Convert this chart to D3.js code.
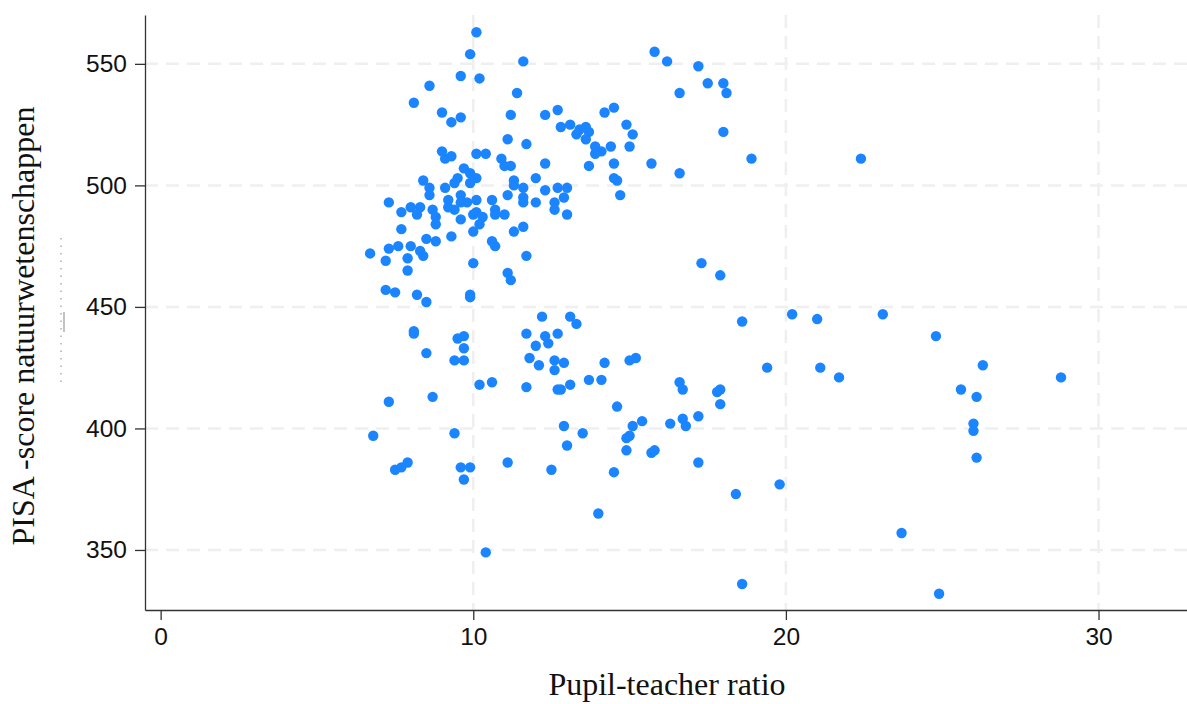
<!DOCTYPE html>
<head>
  <meta charset="utf-8">
  <script src="https://d3js.org/d3.v7.min.js"></script>
  <style>
    body { margin:0; background:#fff; }
    .axis path, .axis line { stroke: #333; stroke-width: 1.3; }
    .axis text { font-family: 'Liberation Sans', Arial, sans-serif; font-size: 24.5px; fill: #111; }
    .grid-line { stroke: #efefef; stroke-width: 2.5; stroke-dasharray: 13,8; }
    .axis-title { font-family: 'Liberation Serif', 'Times New Roman', serif; font-size: 32px; fill: #111; }
    .dot { fill: #1a85ff; }
  </style>
</head>

<body>
  <script>
    // pupil-teacher ratio (x) and PISA science score (y)
    var pupilTeacher = [
      10.1, 9.9, 11.6, 9.6, 10.2, 8.6, 8.1, 11.4, 9.0, 9.3, 9.6, 11.2, 12.3, 12.7, 12.8, 11.1, 11.7,
      9.0, 9.1, 9.3, 10.1, 10.4, 10.9, 11.0, 11.2, 12.3, 9.7, 9.5, 9.4, 9.9, 10.1, 9.9, 8.4, 8.6, 8.6,
      9.1, 11.3, 11.3, 12.0, 12.7, 12.3, 11.6, 11.1, 11.6, 11.6, 12.0, 12.6, 12.6, 7.3, 7.7, 8.0, 8.3,
      8.2, 8.7, 9.2, 9.2, 9.4, 9.6, 9.6, 9.8, 10.1, 10.6, 10.7, 11.0, 10.0, 10.1, 10.3, 8.8, 9.6, 10.7,
      8.8, 10.2, 7.7, 10.0, 9.3, 8.5, 8.8, 11.3, 11.6, 6.7, 7.2, 7.3, 7.6, 8.0, 8.3, 8.4, 7.9, 7.9,
      10.6, 10.7, 10.0, 11.7, 11.1, 11.2, 7.2, 7.5, 8.2, 8.5, 9.9, 9.9, 8.1, 8.1, 9.5, 9.7, 9.7, 9.4,
      9.7, 8.5, 11.7, 12.2, 12.0, 12.3, 12.4, 12.7, 11.8, 12.1, 12.6, 12.6, 10.2, 10.6, 11.7, 12.7,
      12.8, 7.3, 8.7, 13.1, 13.3, 12.9, 14.2, 15.0, 15.2, 13.7, 14.1, 13.1, 16.6, 16.7, 17.8, 17.9,
      17.9, 14.6, 17.3, 17.9, 18.6, 13.0, 6.8, 9.4, 7.5, 7.7, 7.9, 9.6, 9.9, 9.7, 11.1, 12.5, 10.4,
      12.9, 13.5, 13.0, 15.1, 15.4, 14.9, 15.0, 14.9, 15.7, 15.8, 16.3, 16.7, 16.8, 17.2, 17.2, 14.5,
      14.0, 18.4, 18.6, 15.8, 16.2, 17.2, 17.5, 18.0, 18.1, 16.6, 18.0, 13.1, 13.3, 13.4, 13.6, 13.7,
      13.6, 14.2, 14.5, 14.9, 15.1, 13.9, 14.1, 13.9, 14.4, 15.0, 13.7, 14.5, 15.7, 16.6, 14.5, 14.6,
      18.9, 12.9, 14.7, 13.0, 22.4, 20.2, 21.0, 23.1, 24.8, 19.4, 21.1, 21.7, 26.3, 25.6, 26.1, 28.8,
      26.0, 26.0, 26.1, 19.8, 23.7, 24.9
    ];
    var scienceScore = [
      563, 554, 551, 545, 544, 541, 534, 538, 530, 526, 528, 529, 529, 531, 524, 519, 517,
      514, 511, 512, 513, 513, 511, 508, 508, 509, 507, 503, 501, 505, 503, 501, 502, 499, 496,
      499, 502, 500, 503, 499, 498, 499, 496, 495, 493, 493, 493, 490, 493, 489, 491, 491,
      488, 490, 494, 491, 490, 496, 493, 493, 494, 494, 490, 488, 488, 489, 487, 487, 486, 488,
      484, 484, 482, 481, 479, 478, 477, 481, 483, 472, 469, 474, 475, 475, 473, 471, 470, 465,
      477, 475, 468, 471, 464, 461, 457, 456, 455, 452, 455, 454, 440, 439, 437, 438, 433, 428,
      428, 431, 439, 446, 434, 438, 435, 439, 429, 426, 428, 424, 418, 419, 417, 416,
      416, 411, 413, 446, 443, 427, 427, 428, 429, 420, 420, 418, 419, 416, 415, 416,
      410, 409, 468, 463, 444, 488, 397, 398, 383, 384, 386, 384, 384, 379, 386, 383, 349,
      401, 398, 393, 401, 403, 396, 397, 391, 390, 391, 402, 404, 401, 405, 386, 382,
      365, 373, 336, 555, 551, 549, 542, 542, 538, 538, 522, 525, 521, 523, 524, 522,
      519, 530, 532, 525, 521, 516, 514, 513, 516, 516, 508, 509, 509, 505, 503, 502,
      511, 495, 496, 499, 511, 447, 445, 447, 438, 425, 425, 421, 426, 416, 413, 421,
      402, 399, 388, 377, 357, 332
    ];
    var xTicks = [0, 10, 20, 30];
    var yTicks = [350, 400, 450, 500, 550];
    var xTitle = "Pupil-teacher ratio";
    var yTitle = "PISA -score natuurwetenschappen";

    var W = 1187, H = 704;
    var plot = {left: 145, right: 1187, top: 15, bottom: 610};

    var svg = d3.select("body").append("svg")
        .attr("width", W)
        .attr("height", H);

    var x = d3.scaleLinear()
      .domain([-0.5, 32.83])
      .range([plot.left, plot.right]);

    var y = d3.scaleLinear()
      .domain([325.3, 570.1])
      .range([plot.bottom, plot.top]);

    // grid
    var grid = svg.append("g");
    grid.selectAll(".gy")
      .data(yTicks)
      .enter().append("line")
        .attr("class", "grid-line")
        .attr("x1", plot.left)
        .attr("x2", plot.right)
        .attr("y1", d => y(d))
        .attr("y2", d => y(d));
    grid.selectAll(".gx")
      .data(xTicks.filter(d => d > 0))
      .enter().append("line")
        .attr("class", "grid-line")
        .attr("y1", plot.top)
        .attr("y2", plot.bottom)
        .attr("x1", d => x(d))
        .attr("x2", d => x(d));

    // axes
    var xAxis = d3.axisBottom(x).tickValues(xTicks).tickSize(10).tickSizeOuter(0).tickPadding(8);
    var yAxis = d3.axisLeft(y).tickValues(yTicks).tickSize(10).tickSizeOuter(0).tickPadding(8);

    svg.append("g")
      .attr("class", "axis")
      .attr("transform", "translate(0," + plot.bottom + ")")
      .call(xAxis);

    svg.append("g")
      .attr("class", "axis")
      .attr("transform", "translate(" + plot.left + ",0)")
      .call(yAxis);

    // dots
    var points = pupilTeacher.map((v, i) => ({x: v, y: scienceScore[i]}));
    svg.append("g")
      .selectAll("circle")
      .data(points)
      .enter().append("circle")
        .attr("class", "dot")
        .attr("cx", d => x(d.x))
        .attr("cy", d => y(d.y))
        .attr("r", 5.2);

    // titles
    svg.append("text")
      .attr("class", "axis-title")
      .attr("text-anchor", "middle")
      .attr("x", 667)
      .attr("y", 695)
      .text(xTitle);

    svg.append("text")
      .attr("class", "axis-title")
      .attr("text-anchor", "middle")
      .attr("transform", "translate(34," + 326 + ") rotate(-90)")
      .text(yTitle);

    // faint leftover marks beside the y title
    svg.append("line")
      .attr("x1", 61).attr("x2", 61)
      .attr("y1", 238).attr("y2", 388)
      .style("stroke", "#9a9a9a")
      .style("stroke-width", 1.2)
      .style("stroke-dasharray", "1.5,6");
    svg.append("line")
      .attr("x1", 64).attr("x2", 64)
      .attr("y1", 312).attr("y2", 332)
      .style("stroke", "#9a9a9a")
      .style("stroke-width", 1.2);
  </script>
</body>
